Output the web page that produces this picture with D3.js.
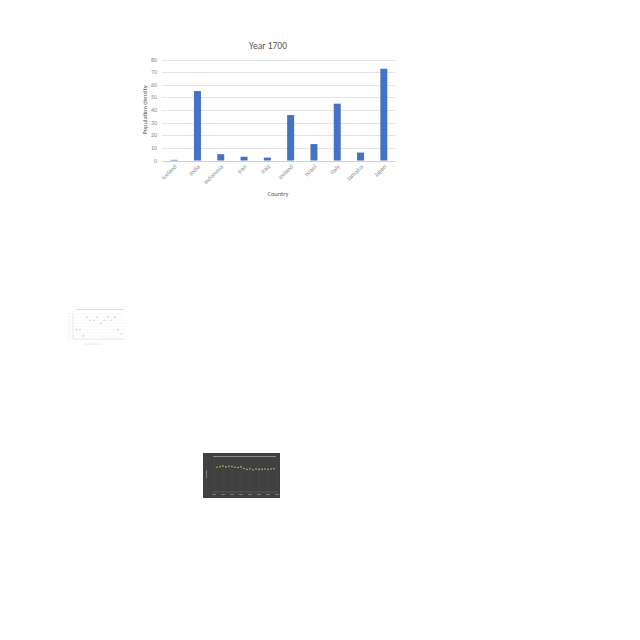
<!DOCTYPE html>
<html><head><meta charset="utf-8">
<script src="https://cdn.jsdelivr.net/npm/d3@7"></script>
<style>body{margin:0;background:#fff}svg{display:block}</style>
</head><body>
<svg id="c" width="640" height="640"></svg>
<script>
const countries = ["Iceland","India","Indonesia","Iran","Iraq","Ireland","Israel","Italy","Jamaica","Japan"];
const density = [0.5,55,5,3,2.3,36,13,45,6.3,72.7];
const yTicks = [0,10,20,30,40,50,60,70,80];
const chartTitle = "Year 1700";
const xTitle = "Country";
const yTitle = "Population density";

// thumbnail 1 (scatter)
const thumb1X = [1,2,3,4,5,6,7,8,9,10,11,12,13,14];
const thumb1Y = [3,3,1,7,6,6,7,5,6,7,6,7,3,1.5];
// thumbnail 2 (dark, points)
const thumb2X = [1,2,3,4,5,6,7,8,9,10,11,12,13,14,15,16,17,18,19,20];
const thumb2Y = [8,8.2,8.4,8.1,8.3,8.2,8,7.9,8.1,7.6,7.3,7.5,7.2,7.4,7.3,7.3,7.4,7.3,7.4,7.5];

const svg = d3.select("#c");
const font = "Carlito, 'Open Sans', sans-serif";

// main chart
const x = d3.scaleBand().domain(countries).range([162.5,395.5]).paddingInner(0.7).paddingOuter(0.35);
const y = d3.scaleLinear().domain([0,80]).range([160.5,59.5]);
const g = svg.append("g");

g.append("g").selectAll("line").data(yTicks).join("line")
  .attr("x1",162).attr("x2",395.5).attr("y1",d=>Math.round(y(d))+0.5).attr("y2",d=>Math.round(y(d))+0.5)
  .attr("stroke",d=>d===0?"#d0d0d0":"#e4e4e4").attr("stroke-width",1);

g.append("g").selectAll("text").data(yTicks).join("text")
  .attr("x",157).attr("y",d=>y(d)+2).attr("text-anchor","end")
  .attr("font-family",font).attr("font-size",6).attr("fill","#8a8a8a").text(d=>d);

g.append("g").selectAll("rect").data(countries).join("rect")
  .attr("x",d=>x(d)).attr("width",x.bandwidth())
  .attr("y",(d,i)=>y(density[i])).attr("height",(d,i)=>y(0)-y(density[i]))
  .attr("fill","#4472c4");

g.append("g").selectAll("text").data(countries).join("text")
  .attr("transform",d=>`translate(${x(d)+x.bandwidth()/2+3},${167}) rotate(-45)`)
  .attr("text-anchor","end").attr("font-family",font).attr("font-size",6.3).attr("fill","#8a8a8a").text(d=>d);

g.append("text").attr("x",268).attr("y",49).attr("text-anchor","middle")
  .attr("font-family",font).attr("font-size",9.5).attr("fill","#595959").text(chartTitle);
g.append("text").attr("x",278).attr("y",196).attr("text-anchor","middle")
  .attr("font-family",font).attr("font-size",6.5).attr("fill","#595959").text(xTitle);
g.append("text").attr("transform","translate(147,110) rotate(-90)").attr("text-anchor","middle")
  .attr("font-family",font).attr("font-size",6.5).attr("fill","#595959").text(yTitle);

// thumbnail 1
const t1 = svg.append("g");
const t1x = d3.scaleLinear().domain([0,15]).range([73,125]);
const t1y = d3.scaleLinear().domain([0,8]).range([339,314]);
t1.append("line").attr("x1",76).attr("x2",124).attr("y1",309.5).attr("y2",309.5).attr("stroke","#dcdcdc").attr("stroke-width",1);
t1.append("g").selectAll("line").data(d3.range(0,9)).join("line")
  .attr("x1",73).attr("x2",125).attr("y1",d=>t1y(d)).attr("y2",d=>t1y(d)).attr("stroke","#f0f0f0").attr("stroke-width",0.5);
t1.append("g").selectAll("line").data(d3.range(0,9)).join("line")
  .attr("x1",67).attr("x2",71).attr("y1",d=>t1y(d)).attr("y2",d=>t1y(d)).attr("stroke","#e6e6e6").attr("stroke-width",0.6);
t1.append("line").attr("x1",73).attr("x2",73).attr("y1",313).attr("y2",339).attr("stroke","#d8d8d8").attr("stroke-width",0.6);
t1.append("line").attr("x1",73).attr("x2",125).attr("y1",339).attr("y2",339).attr("stroke","#d8d8d8").attr("stroke-width",0.6);
t1.append("g").selectAll("circle").data(thumb1X).join("circle")
  .attr("cx",d=>t1x(d)).attr("cy",(d,i)=>t1y(thumb1Y[i])).attr("r",0.8).attr("fill","#c8c8c8");
t1.append("line").attr("x1",84).attr("x2",102).attr("y1",344).attr("y2",344).attr("stroke","#e0e0e0").attr("stroke-width",0.8);

// thumbnail 2
const t2 = svg.append("g");
t2.append("rect").attr("x",203).attr("y",453).attr("width",77).attr("height",45).attr("fill","#404040");
const t2x = d3.scaleLinear().domain([0,21]).range([214,277]);
const t2y = d3.scaleLinear().domain([0,10]).range([492,461]);
t2.append("line").attr("x1",213).attr("x2",276).attr("y1",456.5).attr("y2",456.5).attr("stroke","#8a8a8a").attr("stroke-width",1);
t2.append("g").selectAll("line").data(d3.range(0,8)).join("line")
  .attr("x1",d=>214+d*9).attr("x2",d=>214+d*9).attr("y1",461).attr("y2",492).attr("stroke","#4c4c4c").attr("stroke-width",0.5);
t2.append("line").attr("x1",213).attr("x2",278).attr("y1",492).attr("y2",492).attr("stroke","#6a6a6a").attr("stroke-width",0.6);
t2.append("g").selectAll("rect").data(d3.range(0,8)).join("rect")
  .attr("x",d=>212+d*9).attr("y",494).attr("width",4).attr("height",1).attr("fill","#7a7a7a");
t2.append("g").selectAll("circle").data(thumb2X).join("circle")
  .attr("cx",d=>t2x(d)).attr("cy",(d,i)=>t2y(thumb2Y[i])).attr("r",0.8).attr("fill","#c5c66a");
t2.append("rect").attr("x",206).attr("y",470).attr("width",1).attr("height",8).attr("fill","#7a7a7a");
</script>
</body></html>
